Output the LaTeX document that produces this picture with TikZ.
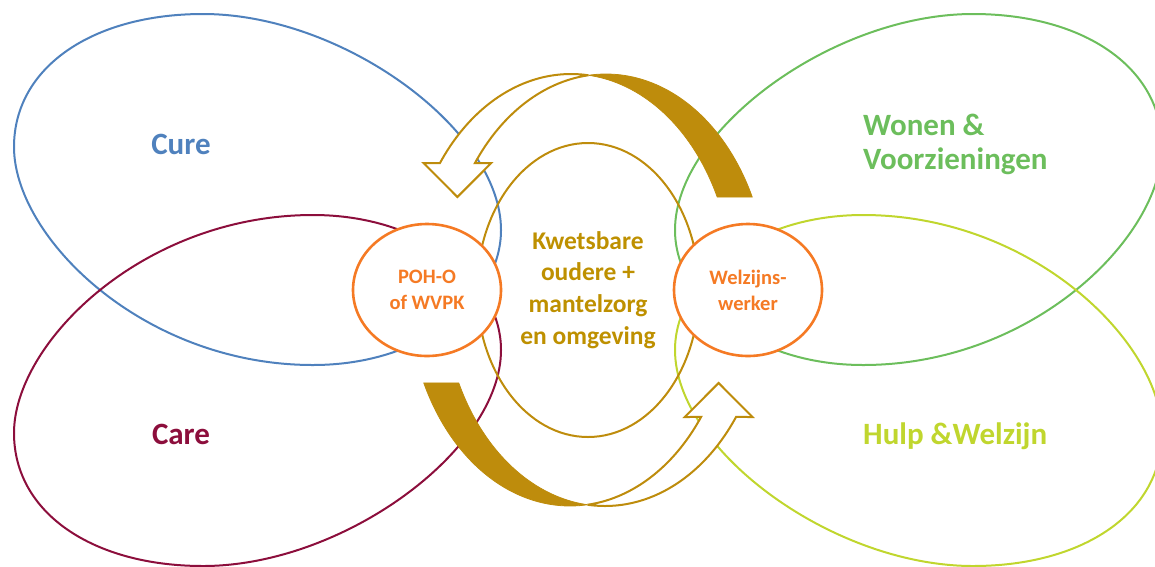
\documentclass[tikz,border=0pt]{standalone}
\usepackage{fontspec}
\setmainfont{Carlito}
\usetikzlibrary{shapes.geometric}
\definecolor{cureblue}{RGB}{79,129,189}
\definecolor{caremaroon}{RGB}{140,14,60}
\definecolor{wonengreen}{RGB}{108,190,92}
\definecolor{hulplime}{RGB}{192,214,46}
\definecolor{poorange}{RGB}{245,122,36}
\definecolor{arrowgold}{RGB}{190,140,12}
\definecolor{textgold}{RGB}{190,144,0}
\tikzset{
  egg/.pic={
    \path[pic actions, line width=2pt]
      (203,14) .. controls (343,14) and (501,130) .. (501,230)
      .. controls (501,300) and (423,365) .. (313,365)
      .. controls (143,365) and (14,237) .. (14,147)
      .. controls (14,67) and (93,14) .. (203,14) -- cycle;
  },
  bentarrow/.pic={
    \filldraw[arrowgold, line width=0.8pt]
      plot[domain=25.5:96.2, samples=50, variable=\t] ({606+162*cos(\t)},{290-216*sin(\t)})
      -- plot[domain=83.8:25.5, samples=50, variable=\t] ({571+162*cos(\t)},{290-216*sin(\t)})
      -- cycle;
    \filldraw[fill=white, draw=arrowgold, line width=2pt, line join=miter]
      plot[domain=83.8:144, samples=50, variable=\t] ({571+162*cos(\t)},{290-216*sin(\t)})
      -- (423.5,163) -- (457.4,197) -- (491.3,163)
      -- plot[domain=144:96.2, samples=50, variable=\t] ({606+162*cos(\t)},{290-216*sin(\t)})
      -- cycle;
  },
  bigtext/.style={font=\fontsize{31}{34}\selectfont\bfseries},
  person/.style={ellipse, draw=poorange, fill=white, line width=2.6pt,
    minimum width=148pt, minimum height=132pt, inner sep=0pt, text=poorange,
    align=center, font=\fontsize{20.5}{26}\selectfont\bfseries},
  core/.style={ellipse, draw=arrowgold, line width=2pt, minimum width=222pt,
    minimum height=294pt, inner sep=0pt, text=textgold, align=center,
    font=\fontsize{25.5}{31.7}\selectfont\bfseries},
}
\begin{document}
\begin{tikzpicture}[x=1pt,y=-1pt]
\useasboundingbox (0,0) rectangle (1155,566);
% four domains
\pic[draw=cureblue, transform shape] at (0,0) {egg};
\begin{scope}[shift={(0,290)},yscale=-1,shift={(0,-290)}]
  \pic[draw=caremaroon, transform shape] at (0,0) {egg};
\end{scope}
\begin{scope}[shift={(588,0)},xscale=-1,shift={(-588,0)}]
  \pic[draw=wonengreen, transform shape] at (0,0) {egg};
\end{scope}
\begin{scope}[rotate around={180:(588,290)}]
  \pic[draw=hulplime, transform shape] at (0,0) {egg};
\end{scope}
% centre
\node[core] (client) at (588,290) {Kwetsbare\\oudere +\\mantelzorg\\en omgeving};
% arrows
\pic[transform shape] at (0,0) {bentarrow};
\begin{scope}[rotate around={180:(588,290)}]
  \pic[transform shape] at (0,0) {bentarrow};
\end{scope}
% persons
\node[person] (poh) at (427,290) {POH-O\\of WVPK};
\node[person] (welzijn) at (748,290) {Welzijns-\\werker};
% labels
\node[bigtext, text=cureblue, anchor=base, inner sep=0pt] (cure) at (181,154) {Cure};
\node[bigtext, text=caremaroon, anchor=base, inner sep=0pt] (care) at (181,444.5) {Care};
\node[bigtext, text=wonengreen, anchor=base west, inner sep=0pt] (wonen) at (863,135) {Wonen \&};
\node[bigtext, text=wonengreen, anchor=base west, inner sep=0pt] (voorz) at (863,169) {Voorzieningen};
\node[bigtext, text=hulplime, anchor=base west, inner sep=0pt] (hulp) at (863,444.5) {Hulp \&Welzijn};
\end{tikzpicture}
\end{document}
